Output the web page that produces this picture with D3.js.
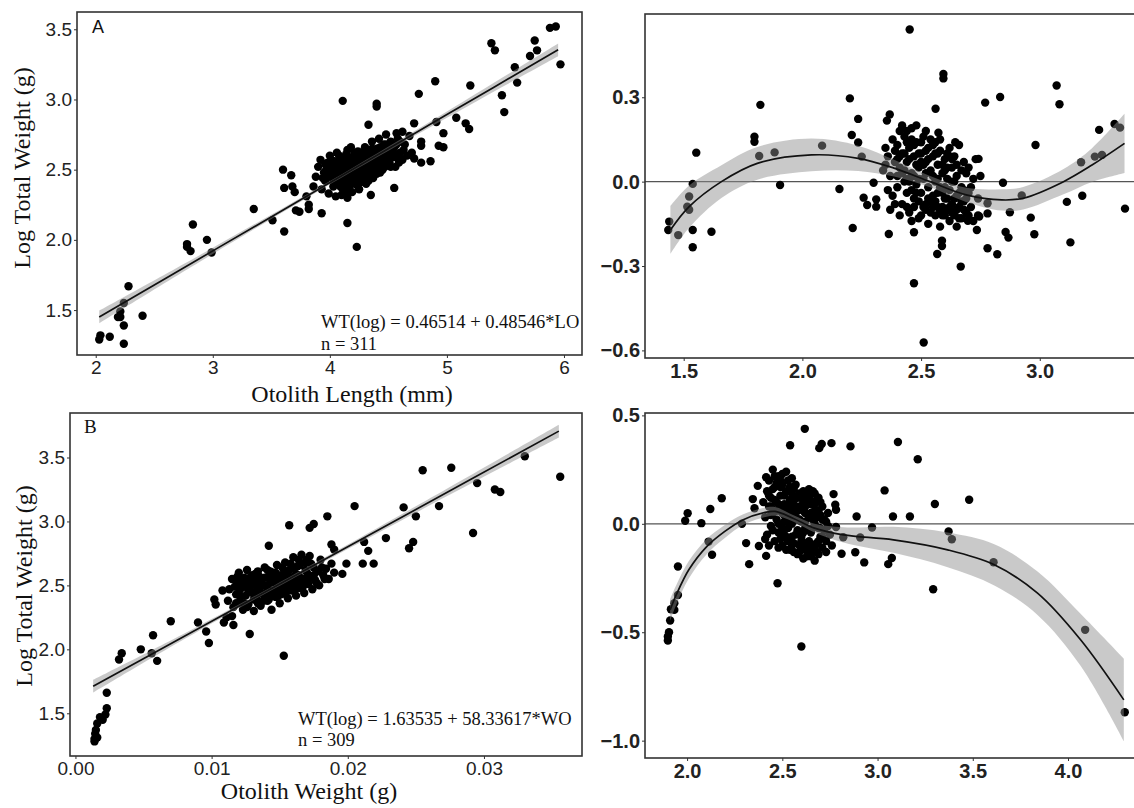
<!DOCTYPE html>
<html lang="en">
<head>
<meta charset="UTF-8">
<title>Otolith size vs total weight</title>
<script src="https://d3js.org/d3.v7.min.js"></script>
<style>
  body { margin: 0; background: #fff; }
</style>
</head>
<body>
<div id="fig"></div>
<script>

// ---------- data ----------

// A: otolith length (mm) vs log total weight
var lengthPts = [
  [3.86,2.38],[3.88,2.45],[3.90,2.52],[3.92,2.57],[3.93,2.36],[3.95,2.48],[3.96,2.42],[3.98,2.55],[3.99,2.33],[4.00,2.60],
  [4.01,2.45],[4.02,2.50],[4.03,2.38],[4.04,2.56],[4.05,2.31],[4.06,2.62],[4.07,2.47],[4.08,2.42],[4.09,2.53],[4.10,2.58],
  [4.11,2.36],[4.12,2.50],[4.13,2.44],[4.14,2.61],[4.15,2.40],[4.16,2.55],[4.17,2.48],[4.18,2.66],[4.19,2.34],[4.20,2.52],
  [4.21,2.45],[4.22,2.58],[4.23,2.39],[4.24,2.63],[4.25,2.49],[4.26,2.55],[4.27,2.43],[4.28,2.60],[4.29,2.51],[4.30,2.66],
  [4.31,2.40],[4.32,2.56],[4.33,2.47],[4.34,2.62],[4.35,2.53],[4.36,2.70],[4.37,2.44],[4.38,2.58],[4.39,2.50],[4.40,2.65],
  [4.41,2.55],[4.42,2.72],[4.43,2.48],[4.44,2.61],[4.45,2.57],[4.46,2.68],[4.47,2.52],[4.48,2.75],[4.49,2.60],[4.50,2.64],
  [4.51,2.55],[4.52,2.70],[4.53,2.59],[4.55,2.66],[4.56,2.52],[4.58,2.72],[4.60,2.62],[4.62,2.57],[4.64,2.68],[4.66,2.60],
  [4.68,2.74],[4.70,2.62],[4.72,2.58],[3.97,2.50],[4.03,2.47],[4.07,2.55],[4.10,2.48],[4.12,2.40],[4.15,2.52],[4.18,2.45],
  [4.20,2.58],[4.22,2.50],[4.25,2.44],[4.27,2.53],[4.30,2.48],[4.32,2.60],[4.34,2.52],[4.37,2.57],[4.40,2.47],[4.42,2.58],
  [4.44,2.53],[4.47,2.63],[4.50,2.58],[4.53,2.65],[4.57,2.60],[4.60,2.70],[4.05,2.40],[4.08,2.60],[4.13,2.56],[4.16,2.43],
  [4.24,2.57],[4.28,2.46],[4.36,2.49],[4.39,2.62],[4.46,2.55],[4.54,2.62],[4.00,2.53],[4.11,2.52],[4.19,2.50],[4.26,2.62],
  [4.33,2.55],[4.41,2.61],[4.49,2.66],[4.15,2.64],[4.35,2.45],[4.45,2.50],[4.25,2.36],[4.10,2.32],[4.62,2.77],[4.57,2.76],
  [3.94,2.44],[3.96,2.54],[3.99,2.47],[4.01,2.57],[4.03,2.42],[4.05,2.53],[4.06,2.45],[4.08,2.50],[4.09,2.38],[4.11,2.56],
  [4.13,2.48],[4.14,2.35],[4.16,2.59],[4.17,2.38],[4.19,2.56],[4.21,2.41],[4.21,2.62],[4.23,2.46],[4.24,2.53],[4.26,2.41],
  [4.27,2.58],[4.29,2.45],[4.31,2.52],[4.31,2.63],[4.33,2.42],[4.35,2.58],[4.36,2.65],[4.38,2.53],[4.40,2.57],[4.42,2.51],
  [4.43,2.66],[4.45,2.62],[4.47,2.57],[4.48,2.68],[4.51,2.61],[4.52,2.52],[4.55,2.59],[4.57,2.68],[4.59,2.55],[4.63,2.64],
  [2.03,1.29],[2.04,1.32],[2.12,1.31],[2.24,1.26],[2.24,1.39],[2.21,1.45],[2.21,1.49],[2.19,1.45],[2.24,1.55],[2.28,1.67],
  [2.40,1.46],[2.78,1.97],[2.78,1.95],[2.81,1.92],[2.83,2.11],[2.95,2.00],[2.99,1.91],[3.35,2.22],[3.51,2.14],[3.61,2.06],
  [3.60,2.50],[3.67,2.46],[3.61,2.37],[3.70,2.34],[3.68,2.38],[3.71,2.21],[3.74,2.20],[3.82,2.25],[3.82,2.22],[3.93,2.19],
  [3.80,2.31],[4.11,2.99],[4.40,2.97],[4.40,2.95],[4.33,2.82],[4.15,2.12],[4.23,1.95],[4.55,2.37],[4.35,2.32],[4.15,2.30],
  [4.76,3.04],[4.90,3.13],[4.72,2.83],[4.78,2.70],[4.78,2.67],[4.78,2.55],[4.86,2.56],[4.91,2.84],[4.97,2.76],[4.93,2.67],
  [4.97,2.66],[5.08,2.87],[5.16,2.83],[5.19,2.79],[5.20,3.10],[5.38,3.40],[5.41,3.35],[5.47,3.03],[5.49,2.91],[5.58,3.23],
  [5.60,3.12],[5.71,3.31],[5.75,3.42],[5.77,3.35],[5.88,3.51],[5.93,3.52],[5.97,3.25]
];
var lengthFit = [0.46514, 0.48546];          // intercept, slope (printed on the chart)
var lengthBandX = [2.03, 3.0, 4.2, 5.0, 5.95];
var lengthBandHalf = [0.045, 0.022, 0.012, 0.022, 0.045];

// B: otolith weight (g) vs log total weight
var weightPts = [
  [0.0112,2.38],[0.0113,2.47],[0.0115,2.55],[0.0116,2.33],[0.0118,2.43],[0.0119,2.52],[0.0120,2.60],[0.0121,2.37],[0.0122,2.48],[0.0123,2.31],
  [0.0124,2.56],[0.0125,2.42],[0.0126,2.62],[0.0127,2.35],[0.0128,2.50],[0.0129,2.45],[0.0130,2.58],[0.0131,2.30],[0.0132,2.53],[0.0133,2.40],
  [0.0134,2.61],[0.0135,2.47],[0.0136,2.34],[0.0137,2.55],[0.0138,2.43],[0.0139,2.64],[0.0140,2.50],[0.0141,2.38],[0.0142,2.57],[0.0143,2.46],
  [0.0144,2.31],[0.0145,2.60],[0.0146,2.52],[0.0147,2.41],[0.0148,2.66],[0.0149,2.48],[0.0150,2.36],[0.0151,2.58],[0.0152,2.54],[0.0153,2.44],
  [0.0154,2.68],[0.0155,2.50],[0.0156,2.40],[0.0157,2.62],[0.0158,2.56],[0.0159,2.46],[0.0160,2.72],[0.0161,2.53],[0.0162,2.42],[0.0163,2.65],
  [0.0164,2.58],[0.0165,2.48],[0.0166,2.74],[0.0167,2.55],[0.0168,2.44],[0.0169,2.68],[0.0170,2.60],[0.0171,2.51],[0.0172,2.73],[0.0173,2.57],
  [0.0174,2.47],[0.0175,2.64],[0.0176,2.54],[0.0178,2.61],[0.0179,2.50],[0.0180,2.70],[0.0182,2.58],[0.0184,2.63],[0.0186,2.55],[0.0188,2.67],
  [0.0190,2.60],[0.0125,2.50],[0.0130,2.44],[0.0133,2.49],[0.0137,2.50],[0.0140,2.44],[0.0143,2.52],[0.0146,2.46],[0.0150,2.54],[0.0153,2.49],
  [0.0156,2.55],[0.0160,2.50],[0.0163,2.57],[0.0166,2.51],[0.0120,2.44],[0.0128,2.56],[0.0135,2.57],[0.0141,2.62],[0.0147,2.60],[0.0152,2.64],
  [0.0158,2.67],[0.0164,2.70],[0.0170,2.70],[0.0118,2.36],[0.0126,2.33],[0.0134,2.36],[0.0142,2.39],[0.0149,2.42],[0.0155,2.45],[0.0162,2.48],
  [0.0168,2.52],[0.0174,2.56],
  [0.0117,2.49],[0.0119,2.57],[0.0121,2.41],[0.0123,2.53],[0.0124,2.36],[0.0127,2.46],[0.0129,2.53],[0.0131,2.39],[0.0132,2.59],[0.0134,2.44],
  [0.0136,2.52],[0.0138,2.38],[0.0139,2.56],[0.0141,2.47],[0.0143,2.61],[0.0144,2.42],[0.0146,2.56],[0.0148,2.45],[0.0149,2.53],[0.0151,2.43],
  [0.0153,2.59],[0.0154,2.47],[0.0156,2.60],[0.0157,2.51],[0.0159,2.64],[0.0161,2.46],[0.0162,2.59],[0.0164,2.53],[0.0165,2.66],[0.0167,2.49],
  [0.0169,2.62],[0.0171,2.56],[0.0173,2.67],[0.0175,2.58],[0.0177,2.52],[0.0181,2.64],[0.0183,2.55],
  [0.0014,1.28],[0.0014,1.30],[0.00145,1.34],[0.0015,1.37],[0.0016,1.42],[0.0018,1.47],[0.0020,1.45],[0.0022,1.49],[0.0023,1.54],[0.0023,1.66],
  [0.0016,1.31],[0.0032,1.92],[0.0034,1.97],[0.0048,2.00],[0.0057,2.11],[0.0056,1.97],[0.0060,1.91],[0.0070,2.22],[0.0090,2.21],[0.0096,2.14],
  [0.0098,2.05],[0.0102,2.39],[0.0103,2.35],[0.0108,2.46],[0.0109,2.21],[0.0111,2.25],[0.0115,2.26],[0.0116,2.19],[0.0128,2.12],[0.0142,2.81],
  [0.0153,1.95],[0.0157,2.97],[0.0172,2.95],[0.0175,2.98],[0.0185,3.04],[0.0188,2.82],[0.0190,2.78],[0.0196,2.59],[0.0199,2.67],[0.0205,3.12],
  [0.0211,2.67],[0.0212,2.84],[0.0215,2.77],[0.0219,2.67],[0.0228,2.87],[0.0241,3.11],[0.0245,2.79],[0.0248,2.84],[0.0250,3.04],[0.0255,3.40],
  [0.0267,3.12],[0.0276,3.42],[0.0292,2.91],[0.0295,3.30],[0.0308,3.25],[0.0312,3.23],[0.0330,3.51],[0.0356,3.35]
];
var weightFit = [1.63535, 58.33617];
var weightBandX = [0.0013, 0.008, 0.0145, 0.025, 0.0355];
var weightBandHalf = [0.05, 0.022, 0.013, 0.025, 0.05];

// right column, top: residuals
var resTopPts = [
  [2.34,0.04],[2.35,0.12],[2.36,0.09],[2.37,0.02],[2.38,0.15],[2.38,-0.05],[2.39,0.07],[2.40,0.13],[2.40,-0.02],[2.41,0.18],
  [2.41,0.05],[2.42,-0.08],[2.42,0.10],[2.43,0.00],[2.43,0.16],[2.44,-0.04],[2.44,0.07],[2.45,0.12],[2.45,-0.11],[2.46,0.03],
  [2.46,0.19],[2.47,-0.06],[2.47,0.09],[2.48,0.14],[2.48,-0.01],[2.49,0.05],[2.49,-0.13],[2.50,0.10],[2.50,-0.04],[2.51,0.01],
  [2.51,0.16],[2.52,-0.08],[2.52,0.07],[2.53,0.12],[2.53,-0.02],[2.54,0.04],[2.54,-0.11],[2.55,0.09],[2.55,-0.05],[2.56,0.00],
  [2.56,0.14],[2.57,-0.09],[2.57,0.06],[2.58,-0.02],[2.58,0.11],[2.59,-0.12],[2.59,0.03],[2.60,0.08],[2.60,-0.06],[2.61,-0.10],
  [2.61,0.01],[2.62,0.12],[2.62,-0.03],[2.63,-0.08],[2.63,0.05],[2.64,-0.12],[2.64,0.09],[2.65,-0.05],[2.65,0.02],[2.66,-0.09],
  [2.66,0.13],[2.67,-0.02],[2.67,-0.13],[2.68,0.07],[2.68,-0.07],[2.69,0.03],[2.69,-0.11],[2.70,-0.04],[2.70,0.05],[2.71,-0.09],
  [2.72,0.01],[2.72,-0.14],[2.73,0.08],[2.74,-0.06],[2.74,-0.12],[2.75,0.02],[2.44,-0.09],[2.46,-0.14],[2.50,-0.12],[2.53,-0.15],
  [2.56,-0.12],[2.58,-0.16],[2.62,-0.14],[2.65,-0.16],[2.52,0.18],[2.48,0.20],[2.44,0.18],[2.42,0.20],[2.58,0.15],[2.62,0.09],
  [2.39,-0.08],[2.37,-0.10],[2.41,-0.12],[2.47,0.02],[2.52,0.03],[2.55,0.02],[2.57,-0.04],[2.60,-0.02],[2.63,0.00],[2.66,-0.04],
  [2.50,0.07],[2.46,-0.03],[2.54,-0.07],[2.59,-0.09],[2.61,0.05],[2.68,-0.10],[2.70,-0.12],[2.49,-0.07],[2.43,0.10],[2.40,0.02],
  [2.36,-0.03],[2.35,0.06],
  [2.41,0.09],[2.43,0.04],[2.45,0.08],[2.45,0.00],[2.47,0.13],[2.47,-0.09],[2.49,0.10],[2.49,0.01],[2.51,0.06],[2.51,-0.09],
  [2.53,0.08],[2.53,-0.06],[2.55,0.13],[2.55,-0.09],[2.57,0.10],[2.57,0.01],[2.59,0.06],[2.59,-0.04],[2.61,0.10],[2.61,-0.06],
  [2.63,0.08],[2.63,-0.11],[2.65,0.06],[2.65,-0.10],[2.67,0.04],[2.67,-0.07],[2.69,-0.06],[2.71,-0.02],[2.46,0.15],[2.50,0.14],
  [2.54,0.15],[2.44,0.14],[2.48,0.06],[2.52,-0.10],[2.56,-0.07],[2.60,-0.12],[2.64,-0.06],[2.66,-0.13],[2.62,-0.09],[2.58,-0.11],
  [2.42,0.03],[2.40,0.08],[2.39,0.11],[2.44,0.01],[2.48,-0.04],[2.52,0.11],[2.56,0.10],[2.60,0.04],[2.64,0.00],[2.68,-0.03],
  [1.435,-0.172],[1.439,-0.142],[1.477,-0.19],[1.523,-0.053],[1.515,-0.089],[1.523,-0.10],[1.538,-0.008],[1.538,-0.172],[1.538,-0.233],[1.553,0.103],
  [1.617,-0.178],[1.798,0.16],[1.798,0.142],[1.823,0.273],[1.818,0.091],[1.883,0.104],[1.906,-0.012],[2.083,0.128],[2.156,-0.026],[2.20,0.296],
  [2.208,0.166],[2.235,0.223],[2.235,0.139],[2.25,0.089],[2.212,-0.165],[2.258,-0.057],[2.273,-0.083],[2.311,-0.063],[2.311,-0.089],[2.30,-0.004],
  [2.364,-0.186],[2.356,0.217],[2.368,0.239],[2.452,0.541],[2.47,-0.361],[2.47,-0.18],[2.511,-0.572],[2.561,0.259],[2.573,0.174],[2.594,0.383],
  [2.594,0.367],[2.568,-0.257],[2.588,-0.21],[2.588,-0.229],[2.667,-0.302],[2.77,0.281],[2.833,0.301],[2.78,-0.237],[2.821,-0.258],[2.78,-0.113],
  [2.78,-0.077],[2.845,-0.004],[2.856,-0.179],[2.868,-0.199],[2.874,-0.109],[2.924,-0.049],[2.962,-0.128],[2.977,-0.187],[2.982,0.130],[3.071,0.342],
  [3.083,0.275],[3.114,-0.072],[3.129,-0.216],[3.174,0.069],[3.179,-0.05],[3.232,0.089],[3.25,0.184],[3.262,0.095],[3.315,0.205],[3.338,0.192],
  [3.359,-0.096],[2.742,0.081],[2.745,-0.124],[2.735,-0.172],[2.697,-0.139],[2.644,0.14]
];
var resTopCurveX = [1.444, 1.523, 1.659, 1.81, 2.038, 2.235, 2.386, 2.538, 2.69, 2.84, 2.93, 3.10, 3.22, 3.357];
var resTopCurveY = [-0.172, -0.089, 0.0, 0.065, 0.095, 0.083, 0.048, 0.0, -0.047, -0.065, -0.059, 0.0, 0.059, 0.136];
var resTopHalf   = [0.085, 0.075, 0.058, 0.058, 0.058, 0.045, 0.03, 0.02, 0.025, 0.038, 0.04, 0.045, 0.06, 0.105];

// right column, bottom: residuals
var resBotPts = [
  [2.40,0.10],[2.41,0.03],[2.42,0.15],[2.42,-0.05],[2.43,0.08],[2.43,0.20],[2.44,-0.01],[2.44,0.12],[2.45,0.05],[2.45,0.25],
  [2.46,-0.08],[2.46,0.17],[2.47,0.02],[2.47,0.10],[2.48,0.22],[2.48,-0.04],[2.49,0.13],[2.49,0.06],[2.50,-0.10],[2.50,0.18],
  [2.51,0.01],[2.51,0.09],[2.52,0.15],[2.52,-0.06],[2.53,0.04],[2.53,0.20],[2.54,-0.12],[2.54,0.11],[2.55,0.00],[2.55,0.07],
  [2.56,0.16],[2.56,-0.09],[2.57,0.03],[2.57,0.12],[2.58,-0.03],[2.58,-0.14],[2.59,0.08],[2.59,0.14],[2.60,-0.06],[2.60,0.01],
  [2.61,0.10],[2.61,-0.11],[2.62,0.05],[2.62,-0.02],[2.63,0.13],[2.63,-0.15],[2.64,-0.08],[2.64,0.03],[2.65,0.09],[2.65,-0.04],
  [2.66,0.15],[2.66,-0.12],[2.67,0.00],[2.67,0.06],[2.68,-0.09],[2.68,0.11],[2.69,-0.02],[2.69,-0.14],[2.70,0.04],[2.70,-0.06],
  [2.71,0.08],[2.71,-0.11],[2.72,-0.03],[2.72,0.02],[2.73,-0.08],[2.74,-0.01],[2.75,-0.05],[2.46,0.11],[2.50,0.05],[2.53,-0.02],
  [2.56,0.05],[2.58,0.06],[2.60,0.12],[2.62,0.08],[2.64,0.12],[2.66,0.02],[2.68,0.03],[2.44,0.04],[2.48,0.00],[2.51,-0.05],
  [2.55,-0.06],[2.59,-0.10],[2.62,-0.12],[2.65,-0.15],[2.67,-0.17],[2.61,-0.16],[2.56,-0.13],[2.52,-0.12],[2.48,-0.11],[2.52,0.24],
  [2.55,0.21],[2.50,0.23],[2.57,0.18],[2.61,0.15],[2.64,0.16],[2.67,0.14],[2.69,0.12],[2.41,-0.07],[2.43,-0.10],[2.70,0.10],
  [2.74,0.05],[2.76,-0.10],[2.73,-0.13],
  [2.43,0.13],[2.45,0.16],[2.45,-0.03],[2.47,0.06],[2.47,0.19],[2.49,-0.07],[2.49,0.17],[2.51,0.13],[2.51,0.04],[2.53,0.09],
  [2.53,-0.08],[2.55,0.14],[2.55,-0.10],[2.57,0.07],[2.57,-0.05],[2.59,0.02],[2.59,-0.13],[2.61,0.06],[2.61,-0.04],[2.63,0.09],
  [2.63,-0.09],[2.65,0.05],[2.65,-0.10],[2.67,0.09],[2.67,-0.11],[2.69,0.06],[2.69,-0.08],[2.71,0.02],[2.71,-0.06],[2.73,0.01],
  [2.46,0.22],[2.49,0.20],[2.54,0.17],[2.58,0.12],[2.62,0.13],[2.66,0.10],[2.60,0.08],[2.56,0.09],[2.52,0.07],[2.48,0.09],
  [2.44,0.08],[2.50,-0.02],[2.54,0.01],[2.58,0.02],[2.62,0.01],[2.66,-0.02],[2.70,-0.02],[2.60,-0.08],[2.64,-0.13],[2.68,-0.13],
  [1.899,-0.538],[1.899,-0.52],[1.905,-0.5],[1.911,-0.446],[1.915,-0.394],[1.933,-0.397],[1.933,-0.366],[1.952,-0.328],[1.952,-0.197],[1.99,0.014],
  [2.003,0.049],[2.075,0.003],[2.113,-0.082],[2.122,0.068],[2.131,-0.143],[2.182,0.118],[2.288,0.0],[2.31,-0.089],[2.326,-0.186],[2.345,0.114],
  [2.354,0.072],[2.371,0.175],[2.377,-0.102],[2.415,-0.148],[2.415,0.215],[2.475,-0.274],[2.60,-0.566],[2.618,0.438],[2.541,0.362],[2.694,0.349],
  [2.707,0.368],[2.758,0.372],[2.858,0.357],[2.769,0.137],[2.778,0.088],[2.782,0.065],[2.782,-0.015],[2.811,-0.138],[2.82,-0.062],[2.883,-0.131],
  [2.89,0.034],[2.909,-0.063],[2.93,-0.178],[2.971,-0.017],[3.037,0.154],[3.056,-0.186],[3.075,-0.158],[3.081,0.034],[3.107,0.377],[3.17,0.034],
  [3.211,0.298],[3.292,-0.302],[3.301,0.091],[3.373,-0.035],[3.39,-0.071],[3.481,0.111],[3.609,-0.177],[4.09,-0.489],[4.298,-0.869]
];
var resBotCurveX = [1.911, 1.943, 2.009, 2.103, 2.198, 2.292, 2.405, 2.462, 2.556, 2.669, 2.821, 3.084, 3.368, 3.613, 3.84, 4.066, 4.293];
var resBotCurveY = [-0.397, -0.328, -0.212, -0.105, -0.035, 0.018, 0.052, 0.057, 0.026, -0.02, -0.051, -0.074, -0.12, -0.189, -0.32, -0.535, -0.812];
var resBotHalf   = [0.05, 0.045, 0.04, 0.035, 0.03, 0.025, 0.022, 0.02, 0.015, 0.02, 0.035, 0.06, 0.08, 0.095, 0.1, 0.12, 0.19];

// tick labels
var lengthTicks = [2, 3, 4, 5, 6];
var logWtTicks = [1.5, 2.0, 2.5, 3.0, 3.5];
var weightTicks = [0.00, 0.01, 0.02, 0.03];
var resTopXTicks = [1.5, 2.0, 2.5, 3.0];
var resTopYTicks = [-0.6, -0.3, 0.0, 0.3];
var resBotXTicks = [2.0, 2.5, 3.0, 3.5, 4.0];
var resBotYTicks = [-1.0, -0.5, 0.0, 0.5];

// ---------- drawing ----------

var svg = d3.select("#fig")
  .append("svg")
    .attr("width", 1134)
    .attr("height", 808)
    .style("display", "block");

var serif = "'Liberation Serif', 'DejaVu Serif', serif";
var sans = "'Liberation Sans', Arial, sans-serif";

function drawPanel(p) {
  var x = d3.scaleLinear().domain(p.xDomain).range([p.box[0], p.box[2]]);
  var y = d3.scaleLinear().domain(p.yDomain).range([p.box[3], p.box[1]]);

  var g = svg.append("g");
  svg.append("clipPath").attr("id", "clip-" + p.id)
    .append("rect")
      .attr("x", p.box[0]).attr("y", p.box[1])
      .attr("width", p.box[2] - p.box[0]).attr("height", p.box[3] - p.box[1]);
  var inner = g.append("g").attr("clip-path", "url(#clip-" + p.id + ")");

  if (p.zeroLine) {
    inner.append("line")
      .attr("x1", p.box[0]).attr("x2", p.box[2])
      .attr("y1", y(0)).attr("y2", y(0))
      .attr("stroke", "#555").attr("stroke-width", 1.2);
  }

  inner.selectAll("circle.pt")
    .data(p.points)
    .enter()
    .append("circle")
      .attr("class", "pt")
      .attr("cx", function(d) { return x(d[0]); })
      .attr("cy", function(d) { return y(d[1]); })
      .attr("r", 4.2)
      .attr("fill", "#000");

  // smoother + ribbon
  var band = p.curveX.map(function(v, i) {
    return {x: v, y: p.curveY[i], lo: p.curveY[i] - p.half[i], hi: p.curveY[i] + p.half[i]};
  });
  inner.append("path")
    .datum(band)
    .attr("fill", "#8c8c8c")
    .attr("fill-opacity", 0.47)
    .attr("d", d3.area()
      .x(function(d) { return x(d.x); })
      .y0(function(d) { return y(d.lo); })
      .y1(function(d) { return y(d.hi); })
      .curve(d3.curveCatmullRom));
  inner.append("path")
    .datum(band)
    .attr("fill", "none")
    .attr("stroke", "#111")
    .attr("stroke-width", 1.7)
    .attr("d", d3.line()
      .x(function(d) { return x(d.x); })
      .y(function(d) { return y(d.y); })
      .curve(d3.curveCatmullRom));

  // frame
  g.append("rect")
    .attr("x", p.box[0]).attr("y", p.box[1])
    .attr("width", p.box[2] - p.box[0]).attr("height", p.box[3] - p.box[1])
    .attr("fill", "none")
    .attr("stroke", "#333")
    .attr("stroke-width", 1.6);

  var ax = g.append("g")
    .attr("transform", "translate(0," + p.box[3] + ")")
    .call(d3.axisBottom(x).tickValues(p.xTicks).tickFormat(p.xFmt).tickSize(3).tickPadding(3));
  var ay = g.append("g")
    .attr("transform", "translate(" + p.box[0] + ",0)")
    .call(d3.axisLeft(y).tickValues(p.yTicks).tickFormat(p.yFmt).tickSize(3).tickPadding(2));
  [ax, ay].forEach(function(a) {
    a.select(".domain").remove();
    a.selectAll("line").attr("stroke", "#333");
    a.selectAll("text")
      .attr("fill", "#222")
      .style("font-family", sans)
      .style("font-size", p.tickSize + "px")
      .style("font-weight", p.bold ? "bold" : "normal");
  });
  return {x: x, y: y};
}

// fitted straight lines from the printed equations
function fitCurve(coef, xs) {
  return xs.map(function(v) { return coef[0] + coef[1] * v; });
}

drawPanel({
  id: "a", box: [77, 12, 582, 355],
  xDomain: [1.84, 6.154], yDomain: [1.18, 3.623],
  points: lengthPts,
  curveX: lengthBandX, curveY: fitCurve(lengthFit, lengthBandX), half: lengthBandHalf,
  xTicks: lengthTicks, xFmt: d3.format("d"),
  yTicks: logWtTicks, yFmt: d3.format(".1f"),
  tickSize: 19, bold: false
});

drawPanel({
  id: "b", box: [70, 413, 582, 756],
  xDomain: [-0.0004, 0.0372], yDomain: [1.166, 3.848],
  points: weightPts,
  curveX: weightBandX, curveY: fitCurve(weightFit, weightBandX), half: weightBandHalf,
  xTicks: weightTicks, xFmt: d3.format(".2f"),
  yTicks: logWtTicks, yFmt: d3.format(".1f"),
  tickSize: 19, bold: false
});

drawPanel({
  id: "c", box: [645, 14, 1158, 358],
  xDomain: [1.337, 3.498], yDomain: [-0.627, 0.596],
  points: resTopPts, zeroLine: true,
  curveX: resTopCurveX, curveY: resTopCurveY, half: resTopHalf,
  xTicks: resTopXTicks, xFmt: d3.format(".1f"),
  yTicks: resTopYTicks, yFmt: d3.format(".1f"),
  tickSize: 20, bold: true
});

drawPanel({
  id: "d", box: [645, 413, 1148, 758],
  xDomain: [1.779, 4.42], yDomain: [-1.08, 0.511],
  points: resBotPts, zeroLine: true,
  curveX: resBotCurveX, curveY: resBotCurveY, half: resBotHalf,
  xTicks: resBotXTicks, xFmt: d3.format(".1f"),
  yTicks: resBotYTicks, yFmt: d3.format(".1f"),
  tickSize: 20, bold: true
});

// panel letters
svg.append("text").attr("x", 92).attr("y", 33)
  .style("font-family", sans).style("font-size", "18px").attr("fill", "#111").text("A");
svg.append("text").attr("x", 84).attr("y", 433)
  .style("font-family", serif).style("font-size", "19px").attr("fill", "#111").text("B");

// equations
var notes = [
  {x: 321, y: 328, t: "WT(log) = 0.46514 + 0.48546*LO"},
  {x: 321, y: 350, t: "n = 311"},
  {x: 298, y: 725, t: "WT(log) = 1.63535 + 58.33617*WO"},
  {x: 298, y: 746, t: "n = 309"}
];
svg.selectAll("text.note")
  .data(notes)
  .enter()
  .append("text")
    .attr("class", "note")
    .attr("x", function(d) { return d.x; })
    .attr("y", function(d) { return d.y; })
    .style("font-family", serif)
    .style("font-size", "18.5px")
    .attr("fill", "#111")
    .text(function(d) { return d.t; });

// axis titles
svg.append("text").attr("x", 352).attr("y", 402).attr("text-anchor", "middle")
  .style("font-family", serif).style("font-size", "24px").attr("fill", "#111")
  .text("Otolith Length (mm)");
svg.append("text").attr("x", 309).attr("y", 799).attr("text-anchor", "middle")
  .style("font-family", serif).style("font-size", "24px").attr("fill", "#111")
  .text("Otolith Weight (g)");
svg.append("text").attr("transform", "translate(30,168) rotate(-90)").attr("text-anchor", "middle")
  .style("font-family", serif).style("font-size", "24px").attr("fill", "#111")
  .text("Log Total Weight (g)");
svg.append("text").attr("transform", "translate(32,586) rotate(-90)").attr("text-anchor", "middle")
  .style("font-family", serif).style("font-size", "24px").attr("fill", "#111")
  .text("Log Total Weight (g)");

</script>
</body>
</html>
